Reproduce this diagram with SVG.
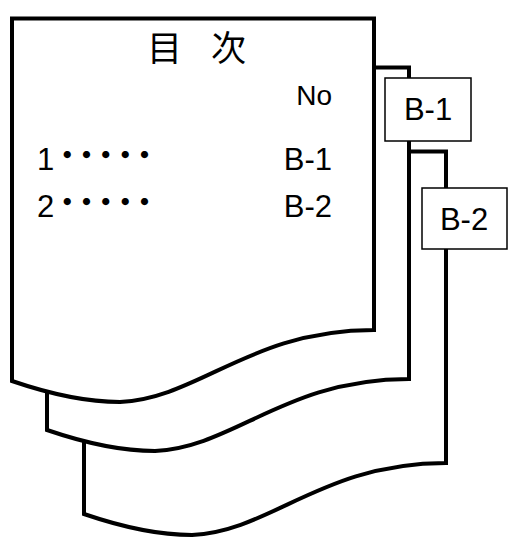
<svg xmlns="http://www.w3.org/2000/svg" width="509" height="541" viewBox="0 0 509 541">
  <style>
    .page { fill: #fff; stroke: #000; stroke-width: 4; stroke-linejoin: miter; }
    .tab { fill: #fff; stroke: #000; stroke-width: 1.5; }
    .lat { font-family: "Liberation Sans", Arial, sans-serif; font-size: 31px; fill: #000; }
    .cjk { font-family: "Noto Sans CJK JP", "Noto Sans CJK SC", sans-serif; fill: #000; }
    .dots { font-family: "Noto Sans CJK JP", "Noto Sans CJK SC", sans-serif; font-size: 28px; font-weight: bold; letter-spacing: -8.7px; }
  </style>
  <defs>
    <!-- document sheet with a wavy lower edge -->
    <path id="sheet" d="M12,18.5 H374 V330 C250,330 200,398 120,402 C85,402 50,394 12,381 Z"/>
  </defs>

  <!-- back sheet -->
  <g id="sheet-b2">
    <use href="#sheet" class="page" transform="translate(72,133)"/>
  </g>

  <!-- middle sheet -->
  <g id="sheet-b1">
    <use href="#sheet" class="page" transform="translate(35,49)"/>
  </g>

  <!-- front sheet: table of contents -->
  <g id="toc">
    <use href="#sheet" class="page"/>
    <text class="cjk" x="147" y="61" font-size="35" letter-spacing="-3">目　次</text>
    <text class="lat" x="332" y="105" text-anchor="end" style="font-size:28px">No</text>
    <text class="lat" x="37" y="170">1<tspan class="dots" dx="-1" dy="-4.5">・・・・・</tspan></text>
    <text class="lat" x="37" y="217">2<tspan class="dots" dx="-1" dy="-4.5">・・・・・</tspan></text>
    <text class="lat" x="332" y="170" text-anchor="end">B-1</text>
    <text class="lat" x="332" y="217" text-anchor="end">B-2</text>
  </g>

  <!-- index tabs -->
  <g id="tab-b1">
    <rect class="tab" x="385" y="78" width="86" height="63"/>
    <text class="lat" x="428" y="120" text-anchor="middle">B-1</text>
  </g>
  <g id="tab-b2">
    <rect class="tab" x="422" y="188" width="85" height="61"/>
    <text class="lat" x="464" y="230" text-anchor="middle">B-2</text>
  </g>
</svg>
